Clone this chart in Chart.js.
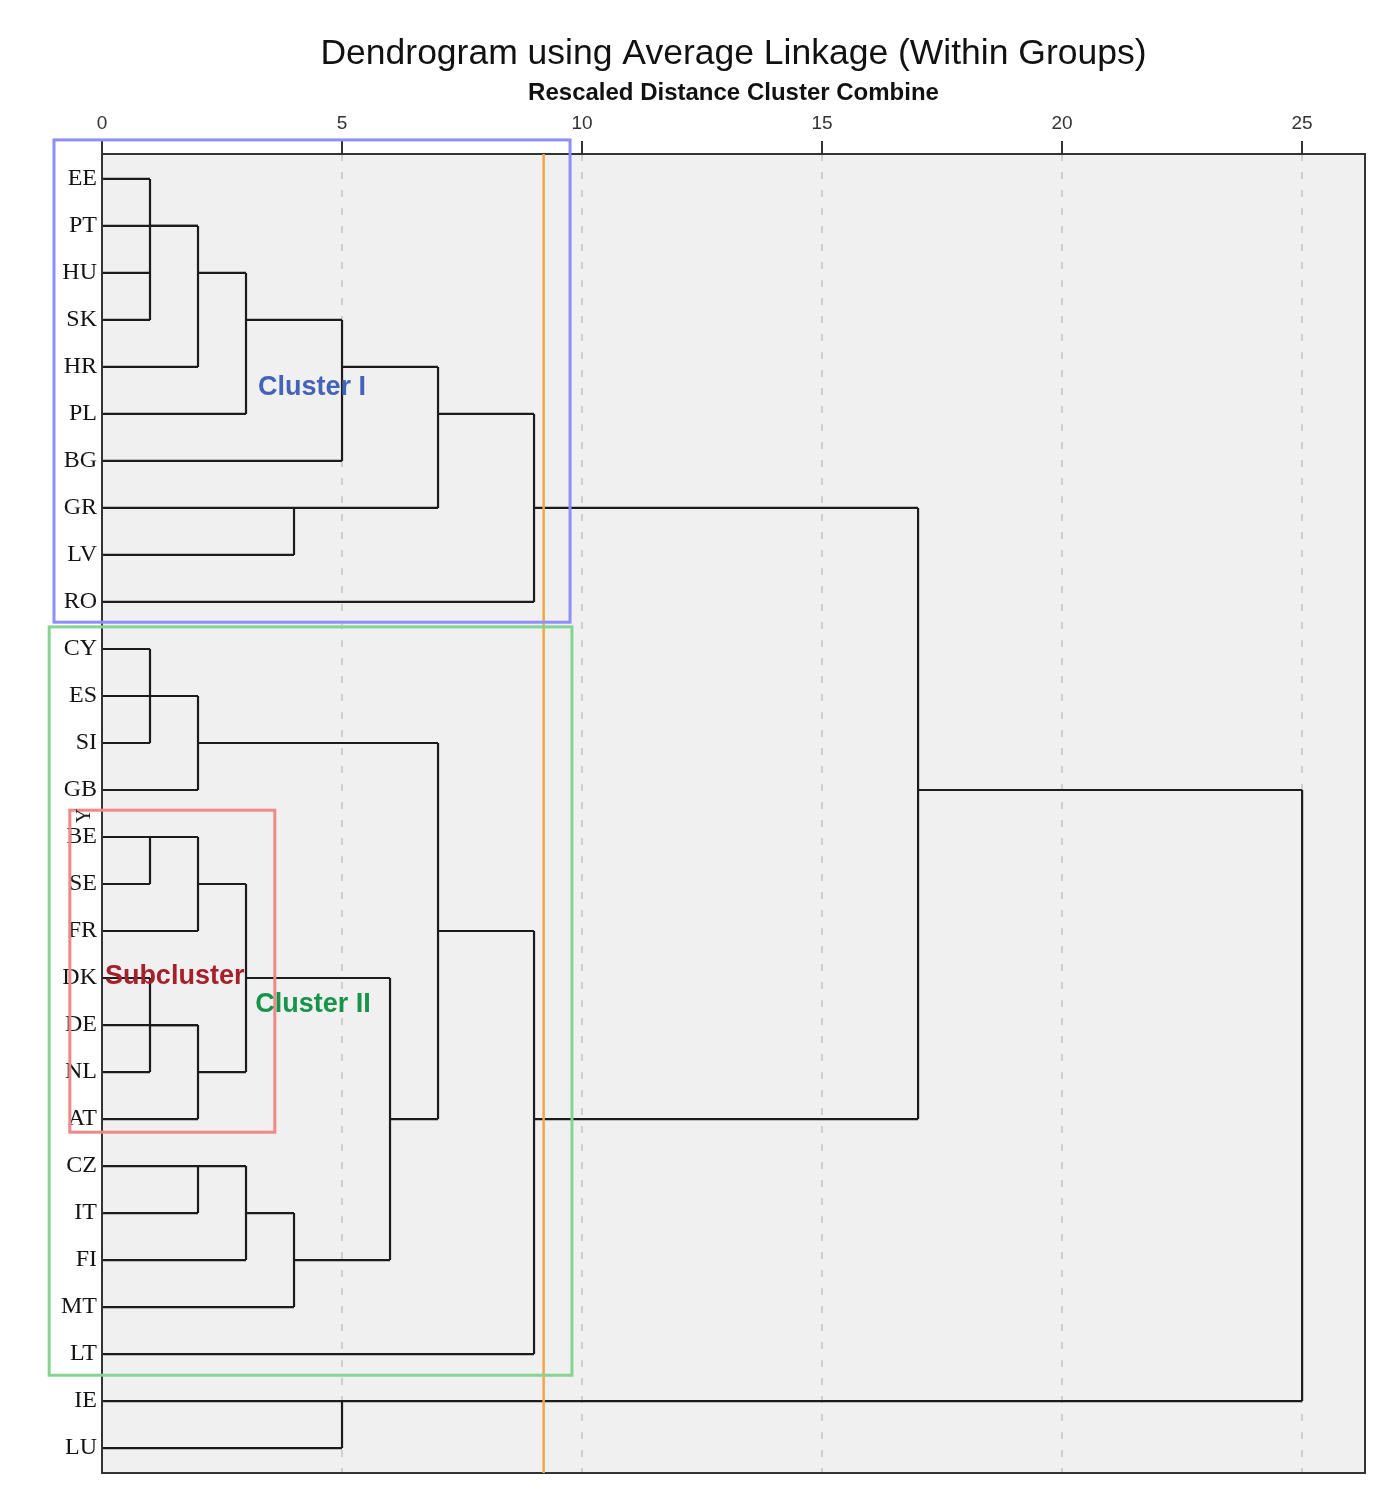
<!DOCTYPE html>
<html>
<head>
<meta charset="utf-8">
<script src="https://cdn.jsdelivr.net/npm/chart.js@4.4.1/dist/chart.umd.min.js"></script>
<style>
  body { margin: 0; background: #fff; }
  #wrap { width: 1397px; height: 1505px; }
</style>
</head>
<body>
<div id="wrap"><canvas id="dendro"></canvas></div>
<script>
// leaves, top to bottom
var leafLabels = ['EE','PT','HU','SK','HR','PL','BG','GR','LV','RO',
                  'CY','ES','SI','GB','BE','SE','FR','DK','DE','NL',
                  'AT','CZ','IT','FI','MT','LT','IE','LU'];

// merges: node id = 28 + index. children are leaf or node ids
var mergeChildren = [
    [0,2,3], [1,28,4], [29,5], [30,6], [7,8], [31,32], [33,9],
    [10,12], [11,35,13],
    [14,15], [37,16], [17,19], [18,39,20], [38,40],
    [21,22], [42,23], [43,24], [41,44], [36,45], [46,25],
    [34,47], [26,27], [48,49]
];
// rescaled distance at which each merge happens
var mergeHeights = [1,2,3,5,4,7,9, 1,2, 1,2,1,2,3, 2,3,4,6,7,9, 17,5,25];
// row where the merged cluster's line leaves to the right
var mergeRows   = [1,2,3,4,7,5,7, 11,12, 14,15,18,19,17, 21,22,23,20,16,20, 13,26,13];

var xTicks = [0,5,10,15,20,25];
var cutDistance = 9.2;

var nLeaves = leafLabels.length;

function nodeHeight(id){
    return id < nLeaves ? 0 : mergeHeights[id - nLeaves];
}
function nodeRow(id){
    return id < nLeaves ? id : mergeRows[id - nLeaves];
}

var segments = [];
mergeChildren.forEach(function(children, i){
    var h = mergeHeights[i];
    var rows = children.map(nodeRow);
    // stems from each child
    children.forEach(function(c){
        segments.push([{x: nodeHeight(c), y: nodeRow(c)}, {x: h, y: nodeRow(c)}]);
    });
    // vertical
    segments.push([{x: h, y: Math.min.apply(null, rows)}, {x: h, y: Math.max.apply(null, rows)}]);
});

var datasets = segments.map(function(seg){
    return {
        data: seg,
        showLine: true,
        borderColor: '#1c1c1c',
        borderWidth: 2.2,
        pointRadius: 0,
        pointHoverRadius: 0,
        fill: false
    };
});

var overlay = {
    id: 'overlay',
    beforeDraw: function(chart){
        var a = chart.chartArea, ctx = chart.ctx;
        ctx.save();
        ctx.fillStyle = '#f0f0f0';
        ctx.fillRect(a.left, a.top, a.right - a.left, a.bottom - a.top);
        ctx.restore();
    },
    afterDraw: function(chart, args, opts){
        var a = chart.chartArea, ctx = chart.ctx;
        var xs = chart.scales.x, ys = chart.scales.y;
        ctx.save();
        ctx.strokeStyle = '#333';
        ctx.lineWidth = 2;
        ctx.strokeRect(a.left, a.top, a.right - a.left, a.bottom - a.top);

        // cut line
        ctx.strokeStyle = '#f4a546';
        ctx.lineWidth = 2.5;
        ctx.beginPath();
        ctx.moveTo(xs.getPixelForValue(cutDistance), a.top);
        ctx.lineTo(xs.getPixelForValue(cutDistance), a.bottom);
        ctx.stroke();

        opts.boxes.forEach(function(b){
            var x0 = xs.getPixelForValue(b.x0), x1 = xs.getPixelForValue(b.x1);
            var y0 = ys.getPixelForValue(b.y0), y1 = ys.getPixelForValue(b.y1);
            ctx.strokeStyle = b.color;
            ctx.lineWidth = 3;
            ctx.strokeRect(x0, y0, x1 - x0, y1 - y0);
        });

        ctx.textBaseline = 'middle';
        ctx.textAlign = 'left';
        opts.labels.forEach(function(l){
            ctx.fillStyle = l.color;
            ctx.font = 'bold 27px "Liberation Sans", Arial, sans-serif';
            ctx.fillText(l.text, xs.getPixelForValue(l.x), ys.getPixelForValue(l.y));
        });

        // leftover rotated glyph above BE
        ctx.fillStyle = '#222';
        ctx.font = '20px "Liberation Serif", serif';
        ctx.translate(xs.getPixelForValue(-0.35), ys.getPixelForValue(13.55));
        ctx.rotate(-Math.PI / 2);
        ctx.textAlign = 'center';
        ctx.fillText('Y', 0, 0);
        ctx.restore();
    }
};

var ctx = document.getElementById('dendro').getContext('2d');
var myChart = new Chart(ctx, {
    type: 'scatter',
    data: { datasets: datasets },
    plugins: [overlay],
    options: {
        responsive: true,
        maintainAspectRatio: false,
        animation: false,
        layout: { padding: { left: 0, right: 32, top: 0, bottom: 32 } },
        scales: {
            x: {
                type: 'linear',
                position: 'top',
                min: 0,
                max: 26.31,
                afterBuildTicks: function(scale){
                    scale.ticks = xTicks.map(function(v){ return {value: v}; });
                },
                afterFit: function(scale){ scale.height = 78.7; },
                ticks: {
                    color: '#333',
                    padding: 6,
                    font: { family: '"Liberation Sans", Arial, sans-serif', size: 19 }
                },
                grid: {
                    color: '#cfcfcf',
                    lineWidth: 2,
                    tickColor: '#333',
                    tickLength: 13,
                    tickWidth: 2
                },
                border: { display: false, dash: [7, 11] },
                title: {
                    display: true,
                    text: 'Rescaled Distance Cluster Combine',
                    color: '#111',
                    padding: { top: 3.3, bottom: 0 },
                    font: { family: '"Liberation Sans", Arial, sans-serif', size: 24, weight: 'bold' }
                }
            },
            y: {
                type: 'linear',
                reverse: true,
                min: -0.53,
                max: 27.53,
                afterBuildTicks: function(scale){
                    scale.ticks = leafLabels.map(function(_, i){ return {value: i}; });
                },
                afterFit: function(scale){ scale.width = 102; },
                ticks: {
                    color: '#141414',
                    padding: 5,
                    font: { family: '"Liberation Serif", "Times New Roman", serif', size: 24 },
                    callback: function(v){ return leafLabels[v]; }
                },
                grid: { display: false, drawTicks: false },
                border: { display: false }
            }
        },
        plugins: {
            legend: { display: false },
            tooltip: { enabled: false },
            title: {
                display: true,
                fullSize: false,
                text: 'Dendrogram using Average Linkage (Within Groups)',
                color: '#111',
                padding: { top: 32.7, bottom: 0 },
                font: { family: '"Liberation Sans", Arial, sans-serif', size: 35.5, weight: 'normal' }
            },
            overlay: {
                boxes: [
                    { x0: -1.0, x1: 9.75, y0: -0.83, y1: 9.43, color: '#8e8eff' },
                    { x0: -1.1, x1: 9.79, y0: 9.53, y1: 25.45, color: '#86d492' },
                    { x0: -0.67, x1: 3.6, y0: 13.43, y1: 20.28, color: '#f08888' }
                ],
                labels: [
                    { text: 'Cluster I', x: 3.25, y: 4.43, color: '#4263b9' },
                    { text: 'Cluster II', x: 3.19, y: 17.57, color: '#17944a' },
                    { text: 'Subcluster', x: 0.06, y: 16.96, color: '#a61f2b' }
                ]
            }
        }
    }
});
</script>
</body>
</html>
